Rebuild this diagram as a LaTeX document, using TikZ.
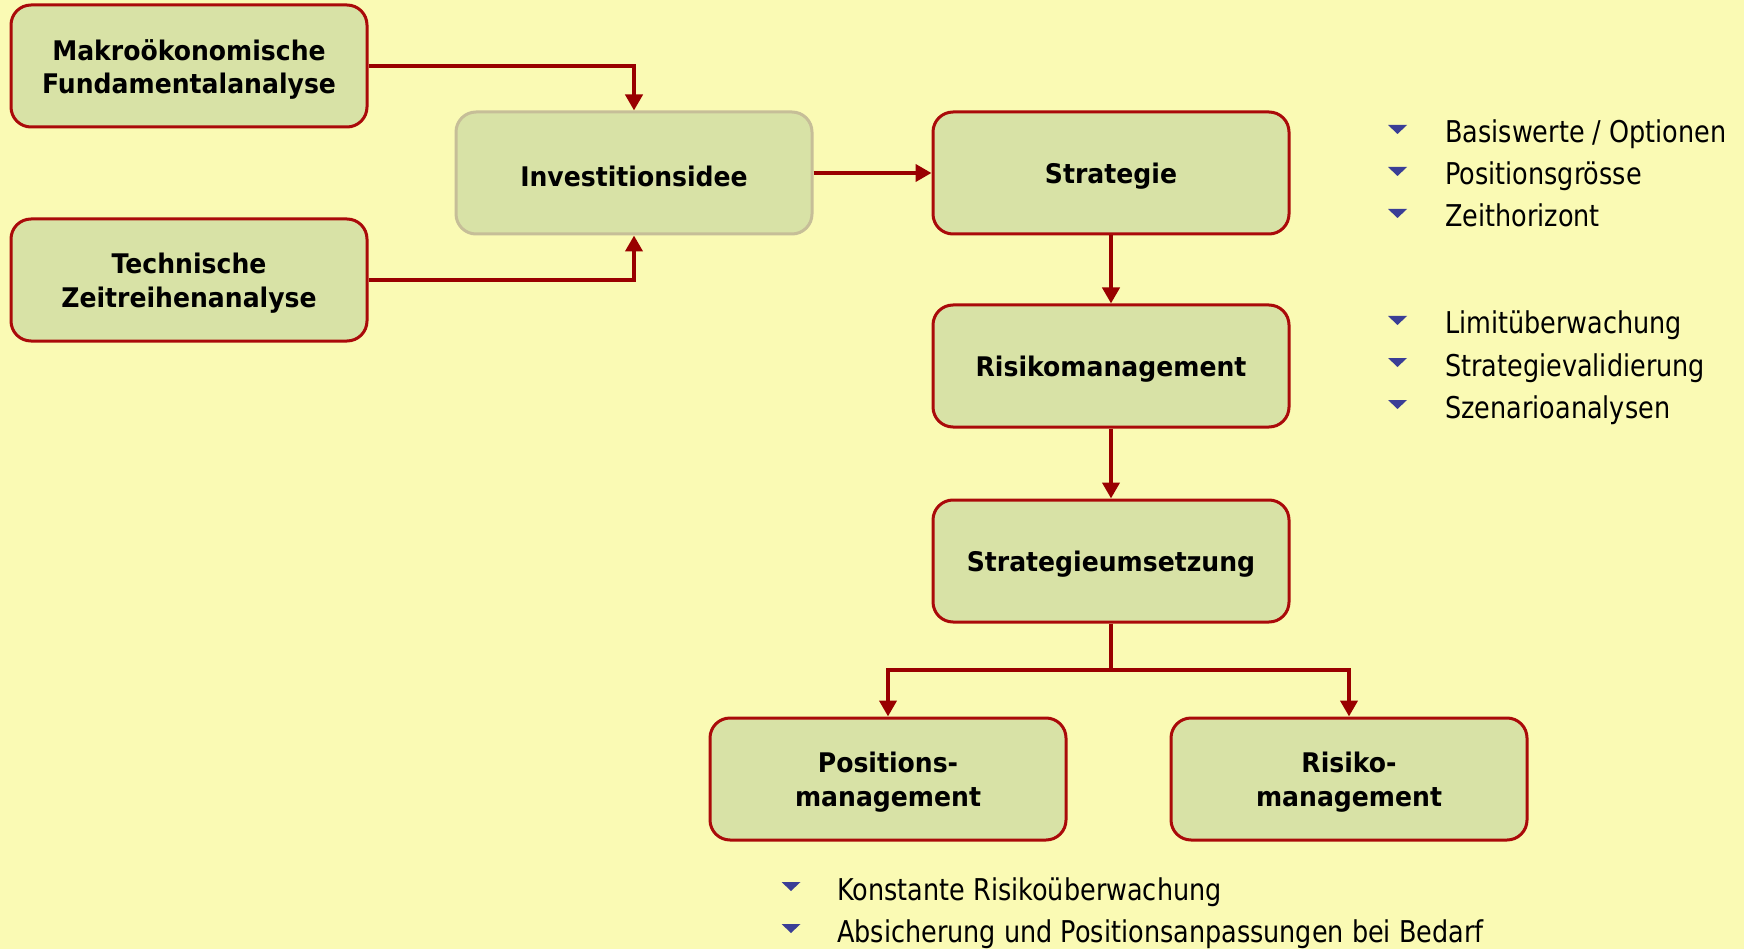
\documentclass[tikz,border=0pt]{standalone}
\usepackage{fontspec}
\setmainfont{DejaVu Sans}[FakeStretch=0.85]
\newfontfamily\boxfont{DejaVu Sans}[FakeStretch=0.93]
\usetikzlibrary{arrows.meta,positioning,calc}
\definecolor{bgyellow}{RGB}{250,250,180}
\definecolor{boxfill}{RGB}{216,226,166}
\definecolor{boxline}{RGB}{170,10,10}
\definecolor{greyline}{RGB}{198,190,152}
\definecolor{arrowred}{RGB}{153,0,0}
\definecolor{bulletblue}{RGB}{58,62,150}
\tikzset{
  box/.style={rectangle, rounded corners=20pt, draw=boxline, line width=3pt,
    fill=boxfill, minimum width=356pt, minimum height=122pt, inner sep=0pt},
  boxtext/.style={inner sep=0pt, align=center, yshift=-3.3pt,
    font=\boxfont\bfseries\fontsize{27}{33.4}\selectfont},
  greybox/.style={box, draw=greyline},
  arr/.style={draw=arrowred, line width=4.5pt, -{Triangle[length=16pt,width=17pt]}},
  conn/.style={draw=arrowred, line width=4.5pt},
  item/.style={anchor=base west, inner sep=0pt, font=\fontsize{30}{36}\selectfont},
  bul/.style={fill=bulletblue}
}
\begin{document}
\begin{tikzpicture}[x=1pt,y=-1pt]
\fill[bgyellow] (0,0) rectangle (1744,949);
\useasboundingbox (0,0) rectangle (1744,949);

\node[box, label={[boxtext]center:{Makroökonomische\\Fundamentalanalyse}}] (mak) at (189,66) {};
\node[box, label={[boxtext]center:{Technische\\Zeitreihenanalyse}}] (tech) at (189,280) {};
\node[greybox, label={[boxtext]center:{Investitionsidee}}] (inv) at (634,173) {};
\node[box, label={[boxtext]center:{Strategie}}] (str) at (1111,173) {};
\node[box, label={[boxtext]center:{Risikomanagement}}] (risk) at (1111,366) {};
\node[box, label={[boxtext]center:{Strategieumsetzung}}] (ums) at (1111,561) {};
\node[box, label={[boxtext]center:{Positions-\\management}}] (pos) at (888,779) {};
\node[box, label={[boxtext]center:{Risiko-\\management}}] (rm) at (1349,779) {};

\draw[arr] (mak.east) -| (inv.north);
\draw[arr] (tech.east) -| (inv.south);
\draw[arr] (inv.east) -- (str.west);
\draw[arr] (str.south) -- (risk.north);
\draw[arr] (risk.south) -- (ums.north);
\coordinate (split) at (1111,670);
\draw[conn] (ums.south) -- (split);
\draw[arr] (split) -| (pos.north);
\draw[arr] (split) -| (rm.north);

% right bullet lists
\foreach \y/\t/\n in {143/{Basiswerte / Optionen}/a1, 185/Positionsgrösse/a2, 227/Zeithorizont/a3,
                      334/Limitüberwachung/b1, 376/Strategievalidierung/b2, 418/Szenarioanalysen/b3}{
  \node[item] (\n) at (1445,\y) {\t};
  \fill[bul] ($(\n.base west)+(-57,-18)$) -- ++(19,0) -- ++(-9.5,9) -- cycle;
}
% bottom bullet list
\foreach \y/\t/\n in {900/Konstante Risikoüberwachung/c1, 942/Absicherung und Positionsanpassungen bei Bedarf/c2}{
  \node[item] (\n) at (837,\y) {\t};
  \fill[bul] ($(\n.base west)+(-55.5,-18)$) -- ++(19,0) -- ++(-9.5,9) -- cycle;
}
\end{tikzpicture}
\end{document}
